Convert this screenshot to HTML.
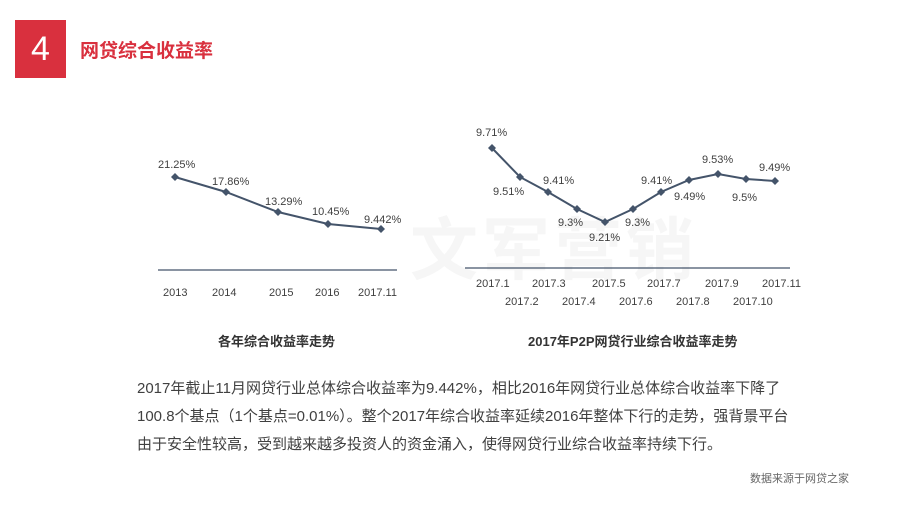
<!DOCTYPE html>
<html><head><meta charset="utf-8"><style>
body{margin:0;width:917px;height:517px;background:#fff;position:relative;overflow:hidden;font-family:"Liberation Sans","Noto Sans CJK SC",sans-serif}
.a{position:absolute}
</style></head><body>
<div class="a" style="left:15px;top:20px;width:51px;height:58px;background:#d9303e;color:#fff;font-size:34px;text-align:center;line-height:58px">4</div>
<div class="a" style="left:80px;top:36px;font-size:19px;font-weight:bold;color:#d9303e">网贷综合收益率</div>
<div class="a" style="left:410px;top:195px;font-size:68px;font-weight:bold;color:#f6f6f6;letter-spacing:4px">文军营销</div>
<svg class="a" style="left:0;top:0" width="917" height="517">
<g font-family="Liberation Sans" font-size="11" fill="#404040">
<line x1="158" y1="270" x2="397" y2="270" stroke="#44546a" stroke-width="1.2"/>
<polyline points="175,177 226,192 278,212 328,224 381,229" fill="none" stroke="#44546a" stroke-width="2"/>
<g fill="#44546a"><path d="M175,173l4,4-4,4-4-4z"/><path d="M226,188l4,4-4,4-4-4z"/><path d="M278,208l4,4-4,4-4-4z"/><path d="M328,220l4,4-4,4-4-4z"/><path d="M381,225l4,4-4,4-4-4z"/></g>
<text x="158" y="168">21.25%</text><text x="212" y="185">17.86%</text><text x="265" y="205">13.29%</text><text x="312" y="215">10.45%</text><text x="364" y="223">9.442%</text>
<text x="163" y="296">2013</text><text x="212" y="296">2014</text><text x="269" y="296">2015</text><text x="315" y="296">2016</text><text x="358" y="296">2017.11</text>
<line x1="465" y1="268" x2="790" y2="268" stroke="#44546a" stroke-width="1.2"/>
<polyline points="492,148 520,177 548,192 577,209 605,222 633,209 661,192 689,180 718,174 746,179 775,181" fill="none" stroke="#44546a" stroke-width="2"/>
<g fill="#44546a"><path d="M492,144l4,4-4,4-4-4z"/><path d="M520,173l4,4-4,4-4-4z"/><path d="M548,188l4,4-4,4-4-4z"/><path d="M577,205l4,4-4,4-4-4z"/><path d="M605,218l4,4-4,4-4-4z"/><path d="M633,205l4,4-4,4-4-4z"/><path d="M661,188l4,4-4,4-4-4z"/><path d="M689,176l4,4-4,4-4-4z"/><path d="M718,170l4,4-4,4-4-4z"/><path d="M746,175l4,4-4,4-4-4z"/><path d="M775,177l4,4-4,4-4-4z"/></g>
<text x="476" y="136">9.71%</text><text x="493" y="195">9.51%</text><text x="543" y="184">9.41%</text><text x="558" y="226">9.3%</text><text x="589" y="241">9.21%</text><text x="625" y="226">9.3%</text><text x="641" y="184">9.41%</text><text x="674" y="200">9.49%</text><text x="702" y="163">9.53%</text><text x="732" y="201">9.5%</text><text x="759" y="171">9.49%</text>
<text x="476" y="287">2017.1</text><text x="532" y="287">2017.3</text><text x="592" y="287">2017.5</text><text x="647" y="287">2017.7</text><text x="705" y="287">2017.9</text><text x="762" y="287">2017.11</text>
<text x="505" y="305">2017.2</text><text x="562" y="305">2017.4</text><text x="619" y="305">2017.6</text><text x="676" y="305">2017.8</text><text x="733" y="305">2017.10</text>
</g></svg>
<div class="a" style="left:218px;top:331px;font-size:13px;font-weight:bold;color:#333">各年综合收益率走势</div>
<div class="a" style="left:528px;top:331px;font-size:13px;font-weight:bold;color:#333">2017年P2P网贷行业综合收益率走势</div>
<div class="a" style="left:137px;top:375px;width:665px;font-size:15px;line-height:28px;color:#404040">2017年截止11月网贷行业总体综合收益率为9.442%，相比2016年网贷行业总体综合收益率下降了100.8个基点（1个基点=0.01%）。整个2017年综合收益率延续2016年整体下行的走势，强背景平台由于安全性较高，受到越来越多投资人的资金涌入，使得网贷行业综合收益率持续下行。</div>
<div class="a" style="left:750px;top:470px;font-size:11px;color:#666">数据来源于网贷之家</div>
</body></html>
